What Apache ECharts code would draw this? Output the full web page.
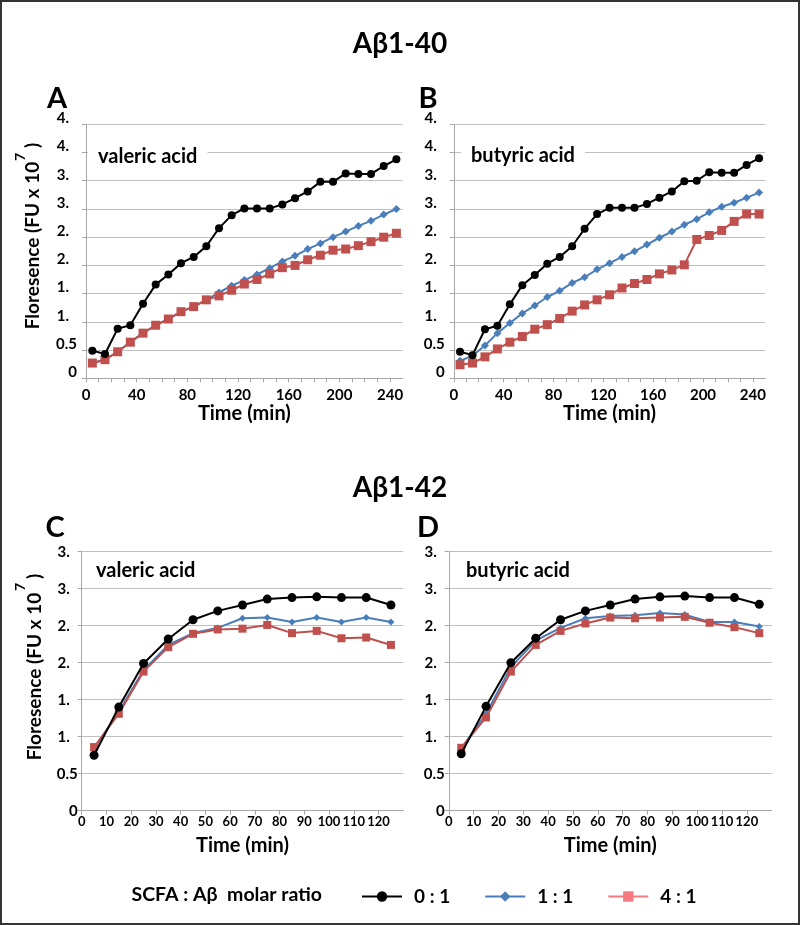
<!DOCTYPE html>
<html><head><meta charset="utf-8">
<script src="https://cdn.jsdelivr.net/npm/echarts@6/dist/echarts.min.js"></script>
<style>html,body{margin:0;padding:0;background:#fff}#c{width:800px;height:925px}</style>
</head><body><div id="c"></div>
<script>
// ---- data ----
const timeAB = [5,15,25,35,45,55,65,75,85,95,105,115,125,135,145,155,165,175,185,195,205,215,225,235,245];
const timeCD = [5,15,25,35,45,55,65,75,85,95,105,115,125];

const a40Valeric_0 = [0.49,0.43,0.88,0.94,1.32,1.66,1.84,2.04,2.15,2.34,2.66,2.89,3.01,3.01,3.01,3.08,3.19,3.31,3.48,3.48,3.63,3.62,3.62,3.76,3.88];
const a40Valeric_1 = [0.27,0.33,0.47,0.64,0.80,0.94,1.05,1.18,1.27,1.39,1.52,1.64,1.74,1.84,1.95,2.07,2.17,2.29,2.39,2.50,2.60,2.70,2.79,2.90,3.00];
const a40Valeric_4 = [0.27,0.33,0.47,0.64,0.80,0.94,1.05,1.18,1.27,1.39,1.46,1.56,1.67,1.75,1.85,1.96,2.00,2.10,2.18,2.27,2.29,2.35,2.42,2.50,2.57];

const a40Butyric_0 = [0.47,0.41,0.87,0.93,1.31,1.65,1.83,2.03,2.15,2.34,2.65,2.91,3.02,3.02,3.02,3.09,3.20,3.31,3.49,3.50,3.65,3.64,3.64,3.78,3.90];
const a40Butyric_1 = [0.31,0.40,0.58,0.80,0.98,1.15,1.29,1.44,1.55,1.69,1.79,1.93,2.04,2.15,2.25,2.37,2.49,2.60,2.72,2.82,2.94,3.04,3.11,3.20,3.29];
const a40Butyric_4 = [0.24,0.27,0.38,0.52,0.64,0.74,0.87,0.95,1.06,1.19,1.30,1.39,1.48,1.60,1.68,1.75,1.85,1.92,2.01,2.46,2.53,2.62,2.78,2.91,2.91];

const a42Valeric_0 = [0.75,1.40,1.99,2.32,2.58,2.70,2.78,2.86,2.88,2.89,2.88,2.88,2.78];
const a42Valeric_1 = [0.84,1.34,1.90,2.24,2.40,2.47,2.60,2.61,2.55,2.61,2.55,2.61,2.55];
const a42Valeric_4 = [0.86,1.31,1.88,2.21,2.39,2.45,2.46,2.51,2.40,2.43,2.33,2.34,2.24];

const a42Butyric_0 = [0.77,1.41,2.00,2.33,2.58,2.70,2.78,2.86,2.89,2.90,2.88,2.88,2.79];
const a42Butyric_1 = [0.84,1.31,1.94,2.30,2.47,2.60,2.63,2.64,2.67,2.65,2.55,2.55,2.49];
const a42Butyric_4 = [0.85,1.26,1.88,2.24,2.43,2.53,2.61,2.60,2.61,2.62,2.54,2.48,2.40];

const yLabelsAB = ['0','0.5','1.','1.','2.','2.','3.','3.','4.','4.'];
const yLabelsCD = ['0','0.5','1.','1.','2.','2.','3.','3.'];
const xLabelsAB = [0,40,80,120,160,200,240];
const xLabelsCD = [0,10,20,30,40,50,60,70,80,90,100,110,120];
const seriesNames = ['0 : 1','1 : 1','4 : 1'];

// ---- styles ----
const FONT = 'Lato, "Open Sans", "DejaVu Sans", sans-serif';
const GRIDC = '#bfbfbf';
const COLORS = ['#000000','#4a7ebb','#c0504d'];
const SYMS = ['circle','diamond','rect'];

const grids = [
  {left:86, top:124.3, width:316.7, height:254},
  {left:453.8, top:124.3, width:311.5, height:254},
  {left:81.7, top:551.7, width:321.6, height:259},
  {left:448.8, top:551.7, width:322.9, height:259}
];

function xAxisFor(i){
  const ab = i < 2;
  return {
    type:'value', gridIndex:i, min:0, max: ab ? 250 : 130, interval:10,
    name:'Time (min)', nameLocation:'middle', nameGap: 25,
    nameTextStyle:{fontFamily:FONT, fontWeight:'bold', fontSize:20, color:'#000'},
    axisLine:{show:true, lineStyle:{color:'#a6a6a6', width:1}},
    axisTick:{show:true, length:4, inside:false, lineStyle:{color:'#a6a6a6'}},
    splitLine:{show:false},
    axisLabel:{
      fontFamily:FONT, fontWeight:'bold', fontSize: ab ? 15 : 13, color:'#000',
      margin: ab ? 9 : 5, showMaxLabel:false, hideOverlap:false,
      formatter: v => (ab ? xLabelsAB : xLabelsCD).includes(v) ? String(v) : ''
    }
  };
}
function yAxisFor(i){
  const ab = i < 2;
  const labs = ab ? yLabelsAB : yLabelsCD;
  const rs = {fontFamily:FONT, fontWeight:'bold', fontSize:15, color:'#000'};
  return {
    type:'value', gridIndex:i, min:0, max: ab ? 4.5 : 3.5, interval:0.5,
    axisLine:{show:true, lineStyle:{color:'#a6a6a6', width:1}},
    axisTick:{show:true, length:4, lineStyle:{color:'#a6a6a6'}},
    splitLine:{show:true, lineStyle:{color:GRIDC, width:1}},
    axisLabel:{
      fontFamily:FONT, fontWeight:'bold', fontSize:15, color:'#000',
      margin: ab ? 9 : 4,
      padding: ab ? [0,0,12,0] : 0,
      formatter: (v) => {
        const k = Math.round(v/0.5);
        const t = labs[k] !== undefined ? labs[k] : '';
        return t.endsWith('.') ? '{p|' + t + '}' : '{n|' + t + '}';
      },
      rich:{
        p: Object.assign({padding:[0,8,0,0]}, rs),
        n: Object.assign({}, rs)
      }
    }
  };
}

const panelData = [
  [a40Valeric_0, a40Valeric_1, a40Valeric_4],
  [a40Butyric_0, a40Butyric_1, a40Butyric_4],
  [a42Valeric_0, a42Valeric_1, a42Valeric_4],
  [a42Butyric_0, a42Butyric_1, a42Butyric_4]
];
const symSizesAB = [8, 8, 9];
const symSizesCD = [9, 7, 8];

const series = [];
panelData.forEach((sets, gi) => {
  const t = gi < 2 ? timeAB : timeCD;
  [1,2,0].forEach(si => {
    series.push({
      type:'line', name: seriesNames[si], xAxisIndex:gi, yAxisIndex:gi,
      data: t.map((x, k) => [x, sets[si][k]]),
      symbol: SYMS[si], symbolSize: (gi < 2 ? symSizesAB : symSizesCD)[si],
      showAllSymbol:true,
      lineStyle:{color:COLORS[si], width: 2},
      itemStyle:{color:COLORS[si], borderWidth:0},
      emphasis:{disabled:true}, animation:false, z: si === 0 ? 4 : (si === 2 ? 3 : 2)
    });
  });
});

function label(text, x, y, size, extra){
  return Object.assign({type:'text', x, y, style:{text, fontFamily:FONT, fontWeight:'bold', fontSize:size, fill:'#000', align:'center', verticalAlign:'middle'}}, extra||{});
}
function inner(text, x, y){
  return {type:'text', x, y, z:10, style:{text, fontFamily:FONT, fontWeight:'bold', fontSize:20, fill:'#000', align:'left', verticalAlign:'middle', backgroundColor:'#fff', padding:[2,10,2,10]}};
}

const graphics = [
  {type:'rect', shape:{x:1, y:1, width:798, height:923}, style:{fill:'none', stroke:'#333', lineWidth:2}, z:100},
  label('Aβ1-40', 400, 44, 28),
  label('Aβ1-42', 400, 488, 28),
  label('A', 57, 99, 29),
  label('B', 428, 99, 29),
  label('C', 55, 528, 29),
  label('D', 428, 528, 29),
  inner('valeric acid', 88, 157),
  inner('butyric acid', 461, 156),
  inner('valeric acid', 86, 571),
  inner('butyric acid', 456, 571),
  label('Floresence (FU x 10   )', 33, 236, 19, {rotation: Math.PI/2}),
  label('7', 20, 157, 14, {rotation: Math.PI/2}),
  label('Floresence (FU x 10   )', 35, 667, 19, {rotation: Math.PI/2}),
  label('7', 20, 587, 14, {rotation: Math.PI/2}),
  {type:'text', x:322, y:895, style:{text:'SCFA : Aβ  molar ratio', fontFamily:FONT, fontWeight:'bold', fontSize:19.5, fill:'#000', align:'right', verticalAlign:'middle'}}
];

const chart = echarts.init(document.getElementById('c'), null, {renderer:'canvas'});
chart.setOption({
  animation:false,
  backgroundColor:'#fff',
  grid: grids.map(g => Object.assign({containLabel:false}, g)),
  xAxis: [0,1,2,3].map(xAxisFor),
  yAxis: [0,1,2,3].map(yAxisFor),
  legend:{
    left:356, top:882, itemWidth:40, itemHeight:13, itemGap:34,
    selectedMode:false,
    textStyle:{fontFamily:FONT, fontWeight:'bold', fontSize:19, color:'#000', padding:[0,0,0,7]},
    data:[
      {name:'0 : 1'},
      {name:'1 : 1'},
      {name:'4 : 1', itemStyle:{color:'#f47a80'}, lineStyle:{color:'#f47a80'}}
    ]
  },
  series,
  graphic: graphics
});
</script></body></html>
